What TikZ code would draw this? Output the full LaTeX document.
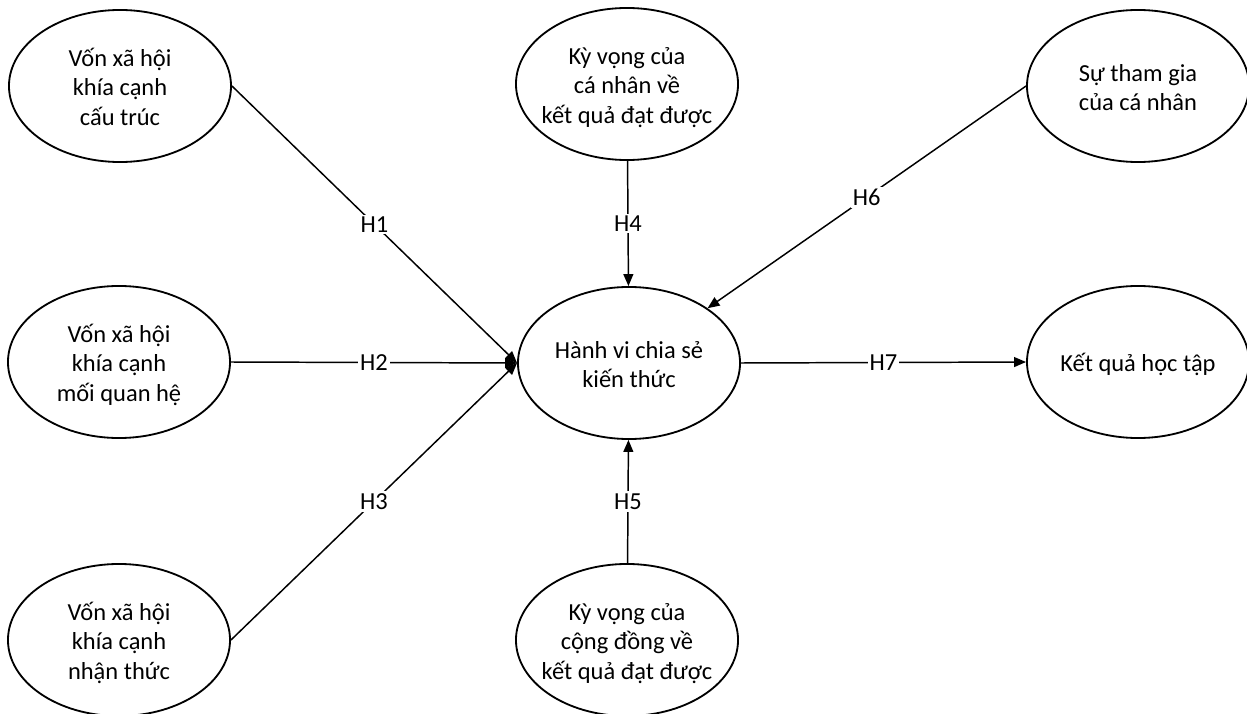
\documentclass[tikz,border=0pt]{standalone}
\usepackage{fontspec}
\setmainfont{Carlito}
\usetikzlibrary{shapes.geometric,arrows.meta}
\newcommand{\ovl}[1]{\raisebox{-0.1cm}[\height][\depth]{\makebox[0pt]{\begin{tabular}{@{}c@{}}#1\end{tabular}}}}

\begin{document}
\begin{tikzpicture}[x=0.025cm,y=-0.025cm,font=\fontsize{17.4}{20.8}\selectfont]
    \tikzstyle{factor}=[draw,ellipse,line width=1.3pt,minimum width=5.55cm,minimum height=3.8cm,inner sep=0pt]
    \tikzstyle{link}=[line width=1.05pt,-{Triangle[length=8.5pt,width=7pt]}]
    \tikzstyle{hyp}=[fill=white,inner sep=1.5pt]
    \useasboundingbox (0,0) rectangle (1247,714);
    % left column
    \node[factor] (cautruc) at (120,86) {\ovl{Vốn xã hội\\khía cạnh\\cấu trúc}};
    \node[factor] (quanhe) at (119,362) {\ovl{Vốn xã hội\\khía cạnh\\mối quan hệ}};
    \node[factor] (nhanthuc) at (119,640) {\ovl{Vốn xã hội\\khía cạnh\\nhận thức}};
    % middle column
    \node[factor] (canhan) at (627,84) {\ovl{Kỳ vọng của\\cá nhân về\\kết quả đạt được}};
    \node[factor] (hanhvi) at (629,363) {\ovl{Hành vi chia sẻ\\kiến thức}};
    \node[factor] (congdong) at (627,640) {\ovl{Kỳ vọng của\\cộng đồng về\\kết quả đạt được}};
    % right column
    \node[factor] (thamgia) at (1138,86) {\ovl{Sự tham gia\\của cá nhân}};
    \node[factor] (ketqua) at (1138,362) {\ovl{Kết quả học tập}};
    % hypotheses
    \draw[link] (cautruc.east) -- node[hyp] (h1) {H1} (hanhvi.west);
    \draw[link] (quanhe.east) -- node[hyp] (h2) {H2} (hanhvi.west);
    \draw[link] (nhanthuc.east) -- node[hyp] (h3) {H3} (hanhvi.west);
    \draw[link] (canhan) -- node[hyp] (h4) {H4} (hanhvi);
    \draw[link] (congdong) -- node[hyp] (h5) {H5} (hanhvi);
    \draw[link] (thamgia.west) -- node[hyp] (h6) {H6} (hanhvi);
    \draw[link] (hanhvi.east) -- node[hyp] (h7) {H7} (ketqua.west);
\end{tikzpicture}
\end{document}
